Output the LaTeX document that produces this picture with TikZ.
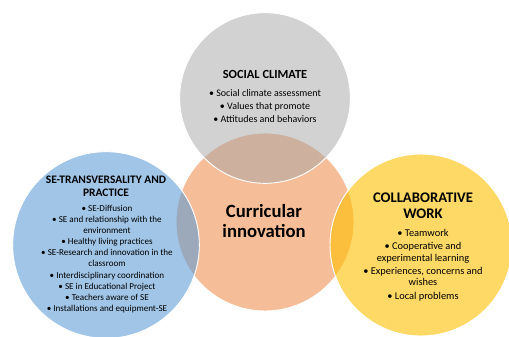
\documentclass[tikz,border=0pt]{standalone}
\usepackage{fontspec}
\setmainfont{Carlito}
\definecolor{climategray}{HTML}{A5A5A5}
\definecolor{innovorange}{HTML}{ED7D31}
\definecolor{practiceblue}{HTML}{5B9BD5}
\definecolor{workgold}{HTML}{FFC000}
\begin{document}
\begin{tikzpicture}[x=0.75pt, y=-0.75pt,
  bubble/.style={draw=white, line width=0.7pt, fill opacity=0.55},
  heading/.style={font=\bfseries, align=center, inner sep=0pt},
  items/.style={align=center, inner sep=0pt}]
\useasboundingbox (0,0) rectangle (509,336);
\begin{scope}
\clip (0,0) rectangle (509,336);
\draw[bubble, fill=innovorange, fill opacity=0.5] (265,222) circle (66.75pt);
\draw[bubble, fill=climategray, fill opacity=0.5] (265,98) circle (64pt);
\draw[bubble, fill=practiceblue, fill opacity=0.58] (106,245) circle (70pt);
\draw[bubble, fill=workgold, fill opacity=0.6] (421,245) circle (68.25pt);
\end{scope}
\node[heading, font=\bfseries\fontsize{9.3}{10}\selectfont] (climatetitle) at (265,74) {SOCIAL CLIMATE};
\node[items, font=\fontsize{7.5}{9.75}\selectfont] (climateitems) at (265,106) {\textbullet\ Social climate assessment\\ \textbullet\ Values that promote\\ \textbullet\ Attitudes and behaviors};
\node[heading, font=\bfseries\fontsize{14}{15.5}\selectfont] (innovation) at (264,221) {Curricular\\innovation};
\node[heading, font=\bfseries\fontsize{8.6}{9.75}\selectfont] (practicetitle) at (106,186.5) {SE-TRANSVERSALITY AND\\PRACTICE};
\node[items, font=\fontsize{6.8}{8.3}\selectfont] (practiceitems) at (107,259) {\textbullet\ SE-Diffusion\\ \textbullet\ SE and relationship with the\\ environment\\ \textbullet\ Healthy living practices\\ \textbullet\ SE-Research and innovation in the\\ classroom\\ \textbullet\ Interdisciplinary coordination\\ \textbullet\ SE in Educational Project\\ \textbullet\ Teachers aware of SE\\ \textbullet\ Installations and equipment-SE};
\node[heading, font=\bfseries\fontsize{11}{12}\selectfont] (worktitle) at (423,206) {COLLABORATIVE\\WORK};
\node[items, font=\fontsize{7.8}{8.3}\selectfont] (workitems) at (423,265) {\textbullet\ Teamwork\\[1.8pt] \textbullet\ Cooperative and\\ experimental learning\\[1.8pt] \textbullet\ Experiences, concerns and\\ wishes\\[1.8pt] \textbullet\ Local problems};
\end{tikzpicture}
\end{document}
